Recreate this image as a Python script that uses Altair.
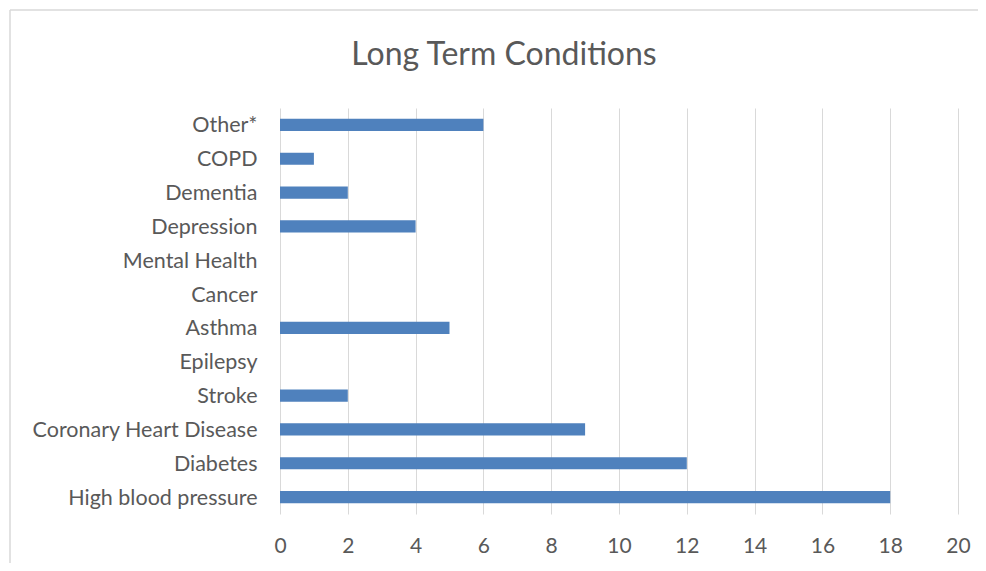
import altair as alt
import pandas as pd

categories = ["Other*", "COPD", "Dementia", "Depression", "Mental Health", "Cancer",
              "Asthma", "Epilepsy", "Stroke", "Coronary Heart Disease", "Diabetes",
              "High blood pressure"]
values = [6, 1, 2, 4, 0, 0, 5, 0, 2, 9, 12, 18]
x_ticks = [0, 2, 4, 6, 8, 10, 12, 14, 16, 18, 20]
title_text = "Long Term Conditions"

df = pd.DataFrame({"condition": categories, "count": values})
one = df.head(1)

FONT = "Lato"
GREY = "#595959"
LINE = "#d9d9d9"

bars = alt.Chart(df).mark_bar(color="#4f81bd").encode(
    x=alt.X("count:Q", scale=alt.Scale(domain=[0, 20], nice=False),
            axis=alt.Axis(values=x_ticks, title=None, grid=True, gridColor=LINE,
                          gridWidth=1, domain=False, ticks=False, labelFontSize=21,
                          labelColor=GREY, labelFont=FONT, labelPadding=21,
                          labelFlush=False)),
    y=alt.Y("condition:N", sort=categories,
            scale=alt.Scale(paddingInner=0.64, paddingOuter=0.32),
            axis=alt.Axis(title=None, domain=False, ticks=False, labelFontSize=21.5,
                          labelColor=GREY, labelFont=FONT, labelPadding=23,
                          labelLimit=0, labelOffset=1.5)),
)

top_border = alt.Chart(one).mark_rule(color=LINE, strokeWidth=1.5).encode(
    x=alt.value(-270), x2=alt.value(720), y=alt.value(-98)
)
left_border = alt.Chart(one).mark_rule(color=LINE, strokeWidth=1.5).encode(
    x=alt.value(-270), y=alt.value(-98), y2=alt.value(470)
)
title = alt.Chart(one).mark_text(
    text=title_text, font=FONT, fontSize=32, color=GREY, align="center",
    baseline="alphabetic"
).encode(x=alt.value(224), y=alt.value(-43))

chart = alt.layer(top_border, left_border, title, bars).properties(
    width=678, height=406,
    autosize=alt.AutoSizeParams(type="none"),
    padding={"left": 272, "top": 100, "right": 20, "bottom": 49},
).configure_view(stroke=None)

chart.save("out.html", embed_options={"renderer": "svg", "actions": False})
